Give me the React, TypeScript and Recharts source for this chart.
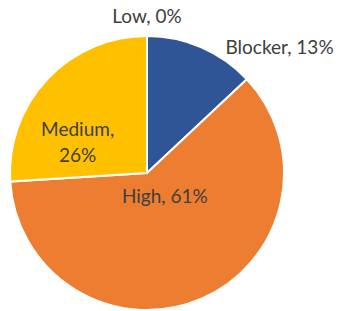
import React from 'react';
import { PieChart, Pie, Cell } from 'recharts';

const names = ['Blocker', 'High', 'Medium', 'Low'];
const shares = [13, 61, 26, 0];
const colors = ['#2F5597', '#ED7D31', '#FFC000', '#A5A5A5'];

// label placement per slice: radius factor, angle nudge (deg), wrap onto two lines
const labelPlace = [
    { rf: 1.336, da: -23, wrap: false },
    { rf: 0.21, da: 15, wrap: false },
    { rf: 0.555, da: 19, wrap: true },
    { rf: 1.153, da: 0, wrap: false },
];

const data = names.map((n, i) => ({ name: n, value: shares[i] }));

const RAD = Math.PI / 180;

const renderLabel = (props: any) => {
    const { cx, cy, midAngle, outerRadius, index } = props;
    const p = labelPlace[index];
    const a = (midAngle + p.da) * RAD;
    const x = cx + outerRadius * p.rf * Math.cos(a);
    const y = cy - outerRadius * p.rf * Math.sin(a);
    const d = data[index];
    const style = { fontFamily: 'Lato, sans-serif', fontSize: 19, fill: '#404040' };
    if (p.wrap) {
        return (
            <text x={x} y={y} textAnchor="middle" style={style}>
                <tspan x={x} dy={-6}>{d.name},</tspan>
                <tspan x={x} dy={26}>{d.value}%</tspan>
            </text>
        );
    }
    return (
        <text x={x} y={y} textAnchor="middle" dominantBaseline="central" style={style}>
            {`${d.name}, ${d.value}%`}
        </text>
    );
};

const App: React.FC = () => {
    return (
        <div style={{ position: 'absolute', left: 0, top: 0, width: 339, height: 311, background: '#fff' }}>
            <PieChart width={339} height={311} margin={{ top: 0, right: 0, bottom: 0, left: 0 }}>
                <Pie
                    data={data}
                    dataKey="value"
                    nameKey="name"
                    cx={147}
                    cy={173}
                    outerRadius={137}
                    startAngle={90}
                    endAngle={-270}
                    stroke="#fff"
                    strokeWidth={2}
                    label={renderLabel}
                    labelLine={false}
                    isAnimationActive={false}
                >
                    {data.map((d, i) => (
                        <Cell key={d.name} fill={colors[i]} />
                    ))}
                </Pie>
            </PieChart>
        </div>
    );
};

export default App;
